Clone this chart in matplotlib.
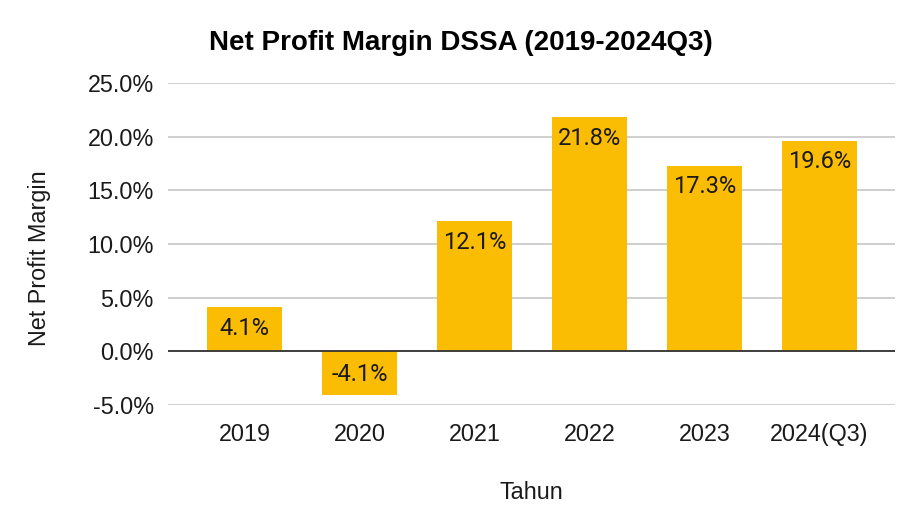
import numpy as np
import matplotlib.pyplot as plt

years = ['2019', '2020', '2021', '2022', '2023', '2024(Q3)']
npm = [4.1, -4.1, 12.1, 21.8, 17.3, 19.6]

plt.rcParams['font.family'] = ['Liberation Sans', 'DejaVu Sans']

fig = plt.figure(figsize=(9.22, 5.28), dpi=100)
ax = fig.add_axes([0.182, 0.233, 0.789, 0.610])

x = np.arange(len(years))
ax.bar(x, npm, width=0.65, color='#fbbc04', zorder=3)

# label di dalam ujung batang
for xi, v in zip(x, npm):
    off = -21 if v > 0 else 21
    ax.annotate(f'{v:.1f}%', (xi, v), xytext=(0, off), textcoords='offset pixels',
                ha='center', va='center', fontsize=17, family='Roboto',
                color='#1a1a1a', zorder=4)

ax.set_xlim(-0.67, 5.66)
ax.set_ylim(-5, 25)
ax.set_yticks(np.arange(-5, 26, 5))
ax.set_yticklabels([f'{t:.1f}%' for t in np.arange(-5, 26, 5)])
ax.set_xticks(x)
ax.set_xticklabels(years)
ax.grid(axis='y', color='#cccccc', linewidth=1.3, zorder=0)
ax.axhline(0, color='#333333', linewidth=1.3, zorder=5)
for s in ax.spines.values():
    s.set_visible(False)
ax.tick_params(axis='both', length=0, labelsize=16.8, colors='#1a1a1a')
ax.tick_params(axis='x', pad=13)
ax.tick_params(axis='y', pad=10)

ax.set_xlabel('Tahun', fontsize=16.8, color='#1a1a1a')
ax.xaxis.set_label_coords(0.5, -0.235)
ax.set_ylabel('Net Profit Margin', fontsize=16.8, color='#1a1a1a')
ax.yaxis.set_label_coords(-0.16, 0.455)
fig.suptitle('Net Profit Margin DSSA (2019-2024Q3)', fontsize=20, fontweight='bold',
             x=0.5, y=0.943, color='#000000')

fig.savefig('out.png')
